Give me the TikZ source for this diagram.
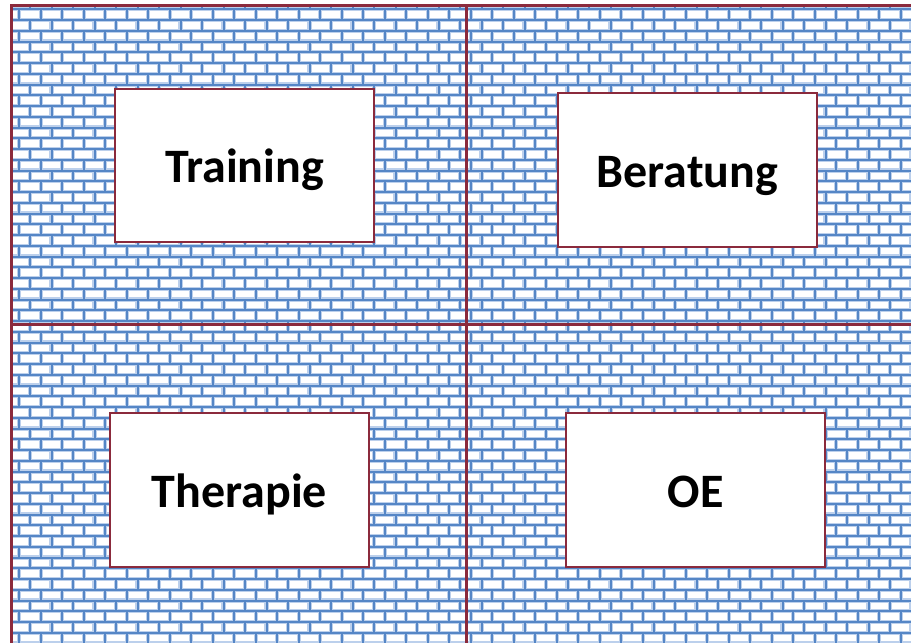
\documentclass[tikz,border=0pt]{standalone}
\usepackage{fontspec}
\setmainfont{Carlito}
\definecolor{framered}{HTML}{8B2A3C}
\definecolor{mortarcore}{HTML}{5586C6}
\definecolor{mortarhalo}{HTML}{BCD0EC}
\tikzset{
  halo/.style={draw=mortarhalo, line width=4.2pt},
  core/.style={draw=mortarcore, line width=2pt},
  frameline/.style={draw=framered, line width=3pt},
  labelbox/.style={rectangle, draw=framered, line width=1.8pt, fill=white,
    minimum width=259pt, minimum height=153.5pt, inner sep=0pt,
    text height=34.5pt, text depth=0pt,
    font=\bfseries\fontsize{48}{58}\selectfont},
}
\begin{document}
\begin{tikzpicture}[x=1pt, y=-1pt]
\useasboundingbox (0,0) rectangle (911,643);
\fill[white] (0,0) rectangle (911,643);
% brick pattern
\begin{scope}
  \clip (11,5.3) rectangle (915,648);
  \foreach \sty in {halo,core}{
    \foreach \k in {-1,...,59}{
      \pgfmathsetmacro\yt{9.3+10.75*\k}
      \pgfmathsetmacro\off{mod(\k+2,2)==0 ? 0 : 10.75}
      \path[\sty] (0,\yt) -- (915,\yt);
      \foreach \m in {-1,...,42}{
        \path[\sty] ({19.3+\off+21.5*\m},\yt) -- ++(0,10.75);
      }
    }
  }
\end{scope}
% frame and dividers
\coordinate (tl) at (11,5.3);
\coordinate (tr) at (916,5.3);
\coordinate (bl) at (11,650);
\coordinate (vt) at (466.3,5.3);
\coordinate (vb) at (466.3,650);
\coordinate (hl) at (11,324.3);
\coordinate (hr) at (916,324.3);
\draw[frameline] (vt) -- (vb);
\draw[frameline] (hl) -- (hr);
\draw[frameline, line join=miter] (tr) -- (tl) -- (bl);
% boxes
\node[labelbox] (training) at (244.6,165.6) {Training};
\node[labelbox] (beratung) at (687.4,170.0) {Beratung};
\node[labelbox] (therapie) at (239.4,490.0) {Therapie};
\node[labelbox] (oe) at (695.6,490.0) {OE};
\end{tikzpicture}
\end{document}
